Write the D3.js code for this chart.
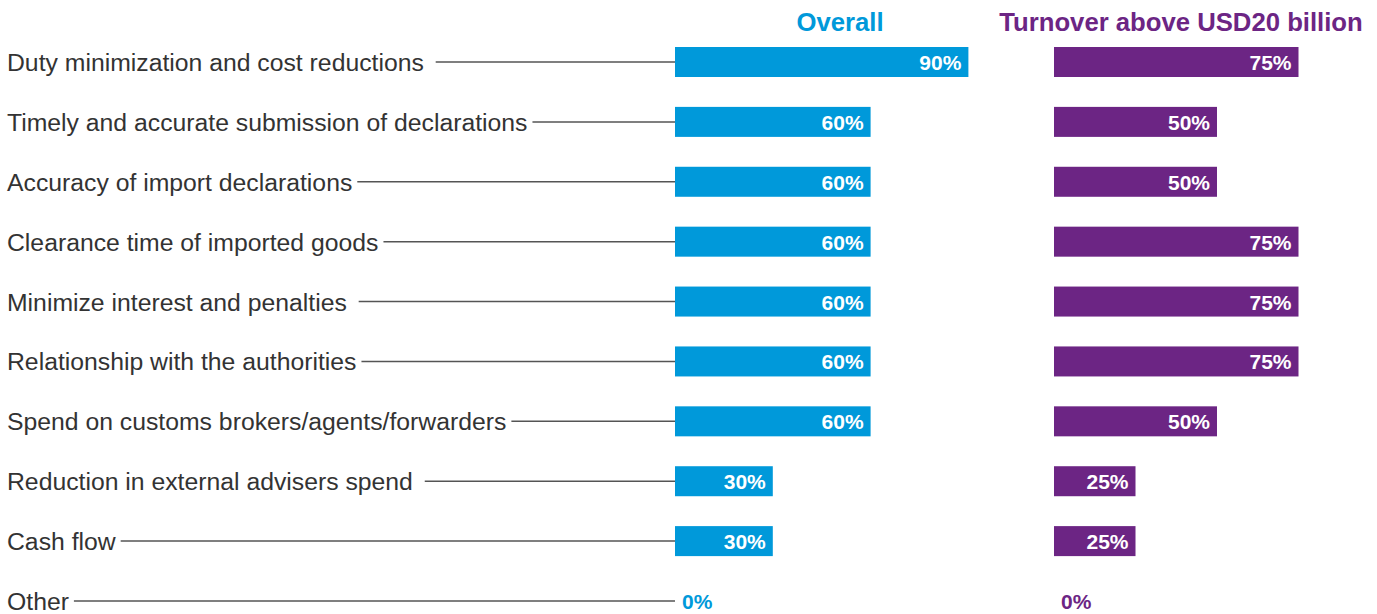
<!DOCTYPE html>
<html>
<head>
<meta charset="utf-8">
<script src="https://cdn.jsdelivr.net/npm/d3@7"></script>
<style>
  body { margin: 0; background: #fff; }
  text { font-family: "Liberation Sans", Arial, sans-serif; }
</style>
</head>
<body>
<script>
// categories (trailing spaces kept as in the original layout)
var categories = [
  "Duty minimization and cost reductions ",
  "Timely and accurate submission of declarations",
  "Accuracy of import declarations",
  "Clearance time of imported goods",
  "Minimize interest and penalties ",
  "Relationship with the authorities",
  "Spend on customs brokers/agents/forwarders",
  "Reduction in external advisers spend ",
  "Cash flow",
  "Other"
];
var overallValues = [90, 60, 60, 60, 60, 60, 60, 30, 30, 0];
var largeValues = [75, 50, 50, 75, 75, 75, 50, 25, 25, 0];
var seriesNames = ["Overall", "Turnover above USD20 billion"];

var blue = "#0099da";
var purple = "#6c2584";

var svg = d3.select("body").append("svg")
  .attr("width", 1377)
  .attr("height", 614);

var y = d3.scalePoint()
  .domain(categories)
  .range([62, 601]);

var x = d3.scaleLinear()
  .domain([0, 100])
  .range([0, 326]);

var barH = 30;
var cols = [
  { name: seriesNames[0], values: overallValues, x0: 675, color: blue, head: 840 },
  { name: seriesNames[1], values: largeValues, x0: 1054, color: purple, head: 1181 }
];

// category labels
var labels = svg.selectAll("text.cat")
  .data(categories)
  .enter()
  .append("text")
  .attr("class", "cat")
  .attr("x", 7)
  .attr("y", function(d) { return y(d) + 9; })
  .attr("font-size", 24.75)
  .attr("fill", "#333")
  .style("white-space", "pre")
  .text(function(d) { return d; });

// leader lines
labels.each(function(d) {
  var end = 7 + this.getComputedTextLength() + 5;
  svg.append("line")
    .attr("x1", end)
    .attr("x2", cols[0].x0)
    .attr("y1", y(d))
    .attr("y2", y(d))
    .attr("stroke", "#555")
    .attr("stroke-width", 1.5);
});

cols.forEach(function(c) {
  svg.append("text")
    .attr("x", c.head)
    .attr("y", 31)
    .attr("text-anchor", "middle")
    .attr("font-size", 25.7)
    .attr("font-weight", "bold")
    .attr("fill", c.color)
    .text(c.name);

  var g = svg.append("g");
  g.selectAll("rect")
    .data(c.values)
    .enter()
    .append("rect")
    .attr("x", c.x0)
    .attr("y", function(d, i) { return y(categories[i]) - barH / 2; })
    .attr("width", function(d) { return x(d); })
    .attr("height", barH)
    .attr("fill", c.color);

  g.selectAll("text")
    .data(c.values)
    .enter()
    .append("text")
    .attr("x", function(d) { return d > 0 ? c.x0 + x(d) - 7 : c.x0 + 7; })
    .attr("y", function(d, i) { return y(categories[i]) + 8; })
    .attr("text-anchor", function(d) { return d > 0 ? "end" : "start"; })
    .attr("font-size", 21)
    .attr("font-weight", "bold")
    .attr("fill", function(d) { return d > 0 ? "#fff" : c.color; })
    .text(function(d) { return d + "%"; });
});
</script>
</body>
</html>
